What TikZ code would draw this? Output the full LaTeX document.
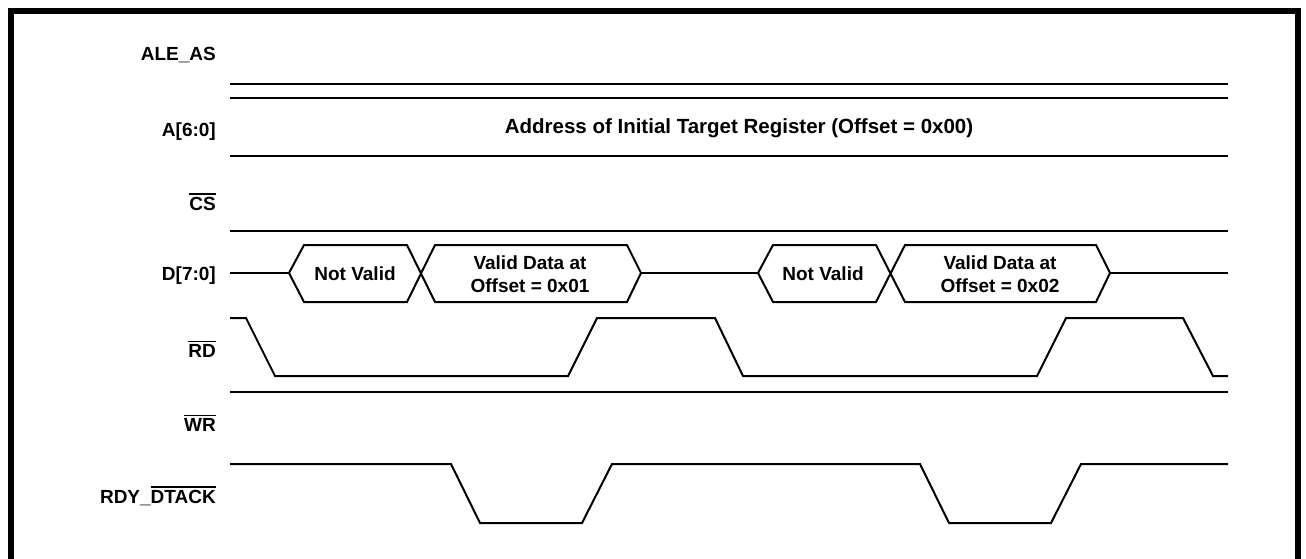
\documentclass[tikz,border=0pt]{standalone}
\usepackage{fontspec}
\setmainfont{Liberation Sans}
\newcommand{\sigbar}[1]{\leavevmode\vbox{\hrule height 1.6pt\kern 2.2pt\hbox{#1}}}
\tikzset{
    sig/.style={line width=2pt, line join=miter},
    bus/.style={line width=2pt, line join=miter},
    lbl/.style={anchor=east, inner sep=0pt, font=\bfseries\fontsize{19}{22}\selectfont},
    val/.style={inner sep=0pt, align=center, font=\bfseries\fontsize{19}{23}\selectfont}
}
\begin{document}
\begin{tikzpicture}[x=1pt, y=-1pt]
    \useasboundingbox (0,0) rectangle (1306,558);
    % Frame
    \draw[line width=6pt] (11,570) -- (11,11) -- (1297.5,11) -- (1297.5,570);

    % Signal names
    \node[lbl] at (216, 55) (ALE) {ALE\_AS};
    \node[lbl] at (216, 131.5) (ADDR) {A[6:0]};
    \node[lbl] at (216, 202) (CS) {\sigbar{CS}};
    \node[lbl] at (216, 275.5) (DATA) {D[7:0]};
    \node[lbl] at (216, 349) (RD) {\sigbar{RD}};
    \node[lbl] at (216, 423) (WR) {\sigbar{WR}};
    \node[lbl] at (216, 496) (RDY) {RDY\_\sigbar{DTACK}};

    % Waveforms
    \draw[sig] (230,84) -- (1228,84);
    \draw[sig] (230,98) -- (1228,98);
    \draw[sig] (230,156) -- (1228,156);
    \draw[sig] (230,230.5) -- (1228,230.5);
    \draw[sig] (230,318) -- (246,318) -- (275,376) -- (568,376) -- (597,318) -- (715,318)
        -- (743,376) -- (1037,376) -- (1066,318) -- (1183,318) -- (1213,376) -- (1228,376);
    \draw[sig] (230,391.5) -- (1228,391.5);
    \draw[sig] (230,464) -- (451,464) -- (480,523) -- (582,523) -- (612,464) -- (920,464)
        -- (949,523) -- (1051,523) -- (1081,464) -- (1228,464);

    % Data bus
    \draw[bus] (230,273) -- (289,273);
    \draw[bus] (289,273) -- (304,245) -- (407,245) -- (435,302) -- (627,302) -- (641,273)
        -- (627,245) -- (435,245) -- (407,302) -- (304,302) -- cycle;
    \draw[bus] (641,273) -- (758,273);
    \draw[bus] (758,273) -- (773,245) -- (876,245) -- (905,302) -- (1096,302) -- (1110,273)
        -- (1096,245) -- (905,245) -- (876,302) -- (773,302) -- cycle;
    \draw[bus] (1110,273) -- (1228,273);

    % Bus values
    \node[val, font=\bfseries\fontsize{20.5}{24}\selectfont] at (739, 128) (A0)
        {Address of Initial Target Register (Offset = 0x00)};
    \node[val] at (355, 273.5) (NV1) {Not Valid};
    \node[val] at (530, 274) (VD1) {Valid Data at\\Offset = 0x01};
    \node[val] at (823, 273.5) (NV2) {Not Valid};
    \node[val] at (1000, 274) (VD2) {Valid Data at\\Offset = 0x02};
\end{tikzpicture}
\end{document}
